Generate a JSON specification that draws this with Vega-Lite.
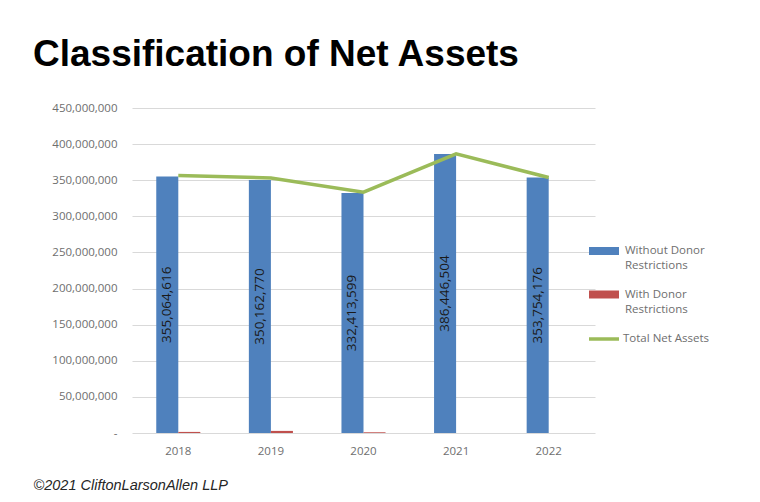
{
  "$schema": "https://vega.github.io/schema/vega-lite/v6.json",
  "width": 463,
  "height": 325,
  "autosize": {"type": "none"},
  "padding": {"left": 132, "top": 108, "right": 165, "bottom": 69},
  "background": "white",
  "title": {
    "text": "Classification of Net Assets",
    "anchor": "start",
    "frame": "group",
    "dx": -99,
    "dy": 3,
    "offset": 2,
    "baseline": "alphabetic",
    "fontSize": 37,
    "font": "Liberation Sans",
    "fontWeight": "bold",
    "color": "#000000"
  },
  "datasets": {
    "bars": [
      {"year": "2018", "series": "Without Donor Restrictions", "value": 355064616},
      {"year": "2018", "series": "With Donor Restrictions", "value": 1500000},
      {"year": "2019", "series": "Without Donor Restrictions", "value": 350162770},
      {"year": "2019", "series": "With Donor Restrictions", "value": 2900000},
      {"year": "2020", "series": "Without Donor Restrictions", "value": 332413599},
      {"year": "2020", "series": "With Donor Restrictions", "value": 1000000},
      {"year": "2021", "series": "Without Donor Restrictions", "value": 386446504},
      {"year": "2021", "series": "With Donor Restrictions", "value": 0},
      {"year": "2022", "series": "Without Donor Restrictions", "value": 353754176},
      {"year": "2022", "series": "With Donor Restrictions", "value": 0}
    ],
    "totals": [
      {"year": "2018", "series": "Total Net Assets", "total": 356564616},
      {"year": "2019", "series": "Total Net Assets", "total": 353062770},
      {"year": "2020", "series": "Total Net Assets", "total": 333413599},
      {"year": "2021", "series": "Total Net Assets", "total": 386446504},
      {"year": "2022", "series": "Total Net Assets", "total": 353754176}
    ]
  },
  "layer": [
    {
      "data": {"name": "bars"},
      "mark": {"type": "bar"},
      "encoding": {
        "x": {
          "field": "year",
          "type": "nominal",
          "scale": {"paddingInner": 0.524, "paddingOuter": 0.262},
          "axis": {
            "labelAngle": 0,
            "domain": false,
            "ticks": false,
            "grid": false,
            "labelPadding": 12,
            "labelFont": "Open Sans",
            "labelFontSize": 11.5,
            "labelColor": "#6e6e6e",
            "title": "©2021 CliftonLarsonAllen LLP",
            "titleX": -99,
            "titleY": 56,
            "titleAlign": "left",
            "titleBaseline": "alphabetic",
            "titleFont": "Liberation Sans",
            "titleFontStyle": "italic",
            "titleFontWeight": "normal",
            "titleFontSize": 14.5,
            "titleColor": "#262626"
          }
        },
        "xOffset": {
          "field": "series",
          "type": "nominal",
          "scale": {"domain": ["Without Donor Restrictions", "With Donor Restrictions"], "paddingInner": 0, "paddingOuter": 0}
        },
        "y": {
          "field": "value",
          "type": "quantitative",
          "scale": {"domain": [0, 450000000], "nice": false},
          "axis": {
            "title": null,
            "values": [0, 50000000, 100000000, 150000000, 200000000, 250000000, 300000000, 350000000, 400000000, 450000000],
            "format": ",",
            "labelExpr": "datum.value === 0 ? '-\u00a0\u00a0\u00a0' : format(datum.value, ',')",
            "domain": false,
            "ticks": false,
            "grid": true,
            "gridColor": "#d9d9d9",
            "gridWidth": 1,
            "labelPadding": 15,
            "labelFont": "Open Sans",
            "labelFontSize": 11.5,
            "labelColor": "#6e6e6e"
          }
        },
        "fill": {
          "field": "series",
          "type": "nominal",
          "scale": {"domain": ["Without Donor Restrictions", "With Donor Restrictions"], "range": ["#4f81bd", "#c0504d"]},
          "legend": {
            "title": null,
            "orient": "none",
            "legendX": 457,
            "legendY": 128,
            "padding": 0,
            "symbolType": "M-1,-0.2667H1V0.2667H-1Z",
            "symbolSize": 900,
            "symbolStrokeWidth": 0,
            "symbolOpacity": 1,
            "labelOffset": 6,
            "labelFont": "Open Sans",
            "labelFontSize": 11.5,
            "labelColor": "#6e6e6e",
            "labelLimit": 200,
            "rowPadding": 7.5,
            "labelExpr": "datum.label == 'Without Donor Restrictions' ? ['Without Donor', 'Restrictions'] : ['With Donor', 'Restrictions']"
          }
        }
      }
    },
    {
      "data": {"name": "totals"},
      "mark": {"type": "line", "strokeWidth": 3.5},
      "encoding": {
        "x": {"field": "year", "type": "nominal"},
        "y": {
          "field": "total",
          "type": "quantitative",
          "axis": {
            "title": null,
            "values": [0, 50000000, 100000000, 150000000, 200000000, 250000000, 300000000, 350000000, 400000000, 450000000],
            "format": ",",
            "labelExpr": "datum.value === 0 ? '-\u00a0\u00a0\u00a0' : format(datum.value, ',')",
            "domain": false,
            "ticks": false,
            "grid": true,
            "gridColor": "#d9d9d9",
            "gridWidth": 1,
            "labelPadding": 15,
            "labelFont": "Open Sans",
            "labelFontSize": 11.5,
            "labelColor": "#6e6e6e"
          }
        },
        "stroke": {
          "field": "series",
          "type": "nominal",
          "scale": {"range": ["#9bbb59"]},
          "legend": {
            "title": null,
            "orient": "none",
            "legendX": 455,
            "legendY": 214,
            "padding": 0,
            "symbolType": "M-1,0H1",
            "symbolSize": 900,
            "symbolStrokeWidth": 3.5,
            "labelOffset": 2,
            "labelFont": "Open Sans",
            "labelFontSize": 11.5,
            "labelColor": "#6e6e6e",
            "labelLimit": 200
          }
        }
      }
    },
    {
      "data": {"name": "bars"},
      "transform": [
        {"filter": "datum.series == 'Without Donor Restrictions'"},
        {"calculate": "datum.value / 2", "as": "mid"}
      ],
      "mark": {"type": "text", "angle": 270, "align": "center", "baseline": "middle", "font": "Open Sans", "fontSize": 13.5, "color": "#1a1a1a"},
      "encoding": {
        "x": {"field": "year", "type": "nominal"},
        "xOffset": {"field": "series", "type": "nominal"},
        "y": {
          "field": "mid",
          "type": "quantitative",
          "axis": {
            "title": null,
            "values": [0, 50000000, 100000000, 150000000, 200000000, 250000000, 300000000, 350000000, 400000000, 450000000],
            "format": ",",
            "labelExpr": "datum.value === 0 ? '-\u00a0\u00a0\u00a0' : format(datum.value, ',')",
            "domain": false,
            "ticks": false,
            "grid": true,
            "gridColor": "#d9d9d9",
            "gridWidth": 1,
            "labelPadding": 15,
            "labelFont": "Open Sans",
            "labelFontSize": 11.5,
            "labelColor": "#6e6e6e"
          }
        },
        "text": {"field": "value", "type": "quantitative", "format": ","}
      }
    }
  ],
  "config": {
    "view": {"stroke": null},
    "style": {"guide-label": {"lineHeight": 15}}
  }
}
